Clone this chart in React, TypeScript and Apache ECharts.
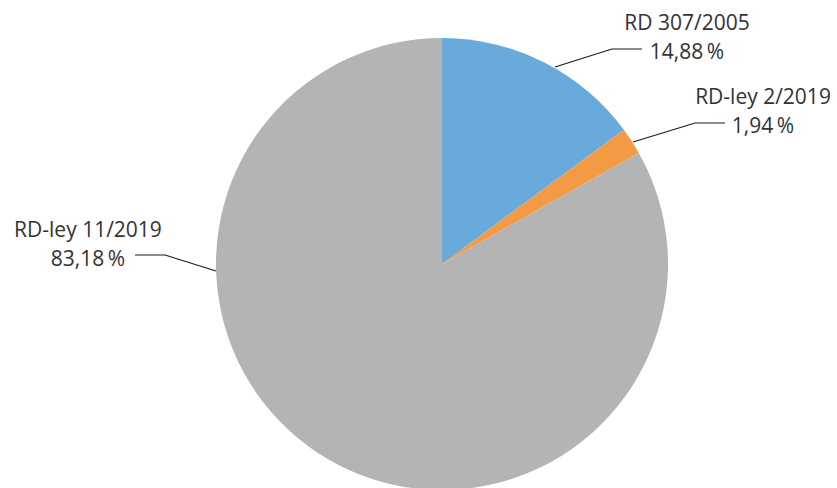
import React, { useEffect, useRef } from "react";
import * as echarts from "echarts";

const categories = ["RD 307/2005", "RD-ley 2/2019", "RD-ley 11/2019"];
const values = [14.88, 1.94, 83.18];
const colors = ["#68AADC", "#F39A45", "#B3B4B3"];

// label layout (centre x, middle y of the two-line label; leader line points)
const labelPos = [
  { x: 687, y: 36, line: [[555, 67], [612, 49], [642, 49]] },
  { x: 763, y: 110, line: [[633, 142], [695, 123], [725, 123]] },
  { x: 88, y: 243, line: [[216, 271], [165, 255], [135, 255]] },
];

export default function App() {
  const ref = useRef<HTMLDivElement>(null);
  useEffect(() => {
    document.body.style.margin = "0";
    const chart = echarts.init(ref.current!, null, { renderer: "svg" });
    chart.setOption({
      animation: false,
      backgroundColor: "#ffffff",
      series: [
        {
          type: "pie",
          center: [442, 264],
          radius: 226,
          startAngle: 90,
          clockwise: true,
          avoidLabelOverlap: false,
          data: categories.map((c, i) => ({
            name: c,
            value: values[i],
            itemStyle: { color: colors[i] },
          })),
          itemStyle: { borderWidth: 0 },
          label: {
            show: true,
            position: "outside",
            formatter: (p: any) =>
              p.name + "\n" + p.value.toFixed(2).replace(".", ",") + "\u2009%",
            fontFamily: "Open Sans",
            fontSize: 21,
            lineHeight: 29,
            color: "#333333",
            align: "center",
          },
          labelLine: {
            show: true,
            lineStyle: { color: "#1a1a1a", width: 1.2 },
          },
          labelLayout: (params: any) => {
            const lp = labelPos[params.dataIndex];
            return {
              x: lp.x,
              y: lp.y,
              align: "center",
              verticalAlign: "middle",
              labelLinePoints: lp.line,
            };
          },
          emphasis: { disabled: true },
        },
      ],
    });
    return () => chart.dispose();
  }, []);
  return <div ref={ref} style={{ width: 837, height: 488 }} />;
}
